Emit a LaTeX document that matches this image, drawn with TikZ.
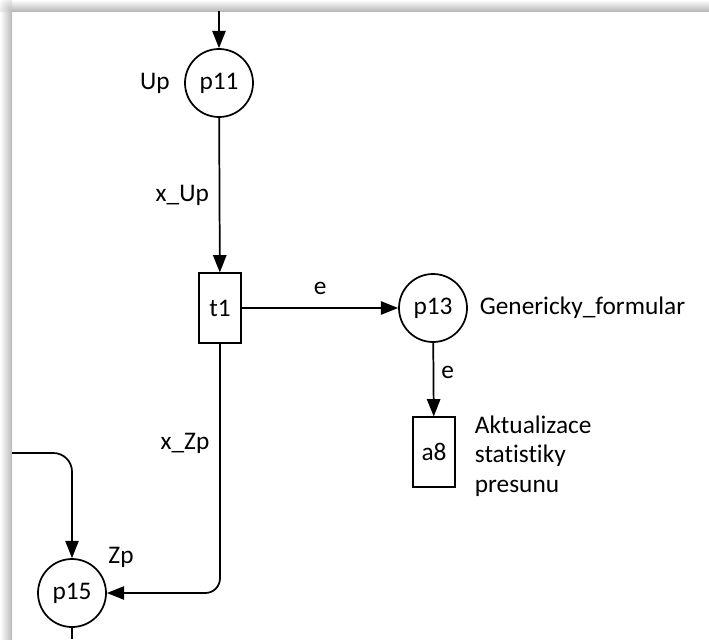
\documentclass[tikz,border=0pt]{standalone}
\usepackage{fontspec}
\setmainfont[Ligatures=NoCommon]{Carlito}
\usetikzlibrary{arrows.meta}

\begin{document}
\begin{tikzpicture}[x=0.75pt,y=-0.75pt,>={Triangle[length=13pt,width=10pt]},
  line width=1.3pt,
  place/.style={draw,circle,minimum size=51pt,inner sep=0pt},
  trans/.style={draw,rectangle,minimum width=32pt,minimum height=52pt,inner sep=0pt},
  every node/.append style={font=\fontsize{19}{22}\selectfont}]
  \useasboundingbox (0,0) rectangle (709,639);
  \shade[top color=white,bottom color=gray!55] (12,0) rectangle (709,11);
  \shade[left color=white,right color=gray!55] (0,11) rectangle (12,639);
  \begin{scope}
    \clip (0,0) rectangle (12,11);
    \shade[inner color=gray!55,outer color=white] (12,11) circle[radius=16];
  \end{scope}

  \node[place] (p11) at (219,83) {p11};
  \node[trans] (t1) at (220,308) {t1};
  \node[place] (p13) at (433,308) {p13};
  \node[trans] (a8) at (434,452) {a8};
  \node[place] (p15) at (72,593) {p15};
  \coordinate (topin) at (219,11);
  \coordinate (leftin) at (12,453);
  \coordinate (botout) at (72,639);

  \node (lup) at (155,83) {Up};
  \node (lzp) at (121,557) {Zp};
  \node[anchor=west,inner sep=0pt] (lgen) at (479,308) {Genericky\_formular};
  \node[anchor=west,align=left,inner sep=0pt] (lakt) at (474,456)
    {Aktualizace\\statistiky\\presunu};

  \draw[->] (topin) -- (p11);
  \draw[->] (p11) -- node[left=4pt] {x\_Up} (t1);
  \draw[->] (t1) -- node[above=6pt] {e} (p13);
  \draw[->] (p13) -- node[right=2pt,pos=0.4] {e} (a8);
  \draw[->,rounded corners=11pt] (t1.south) |- node[left=4pt,pos=0.2] {x\_Zp} (p15);
  \draw[->,rounded corners=14pt] (leftin) -| (p15);
  \draw (p15) -- (botout);
\end{tikzpicture}
\end{document}
